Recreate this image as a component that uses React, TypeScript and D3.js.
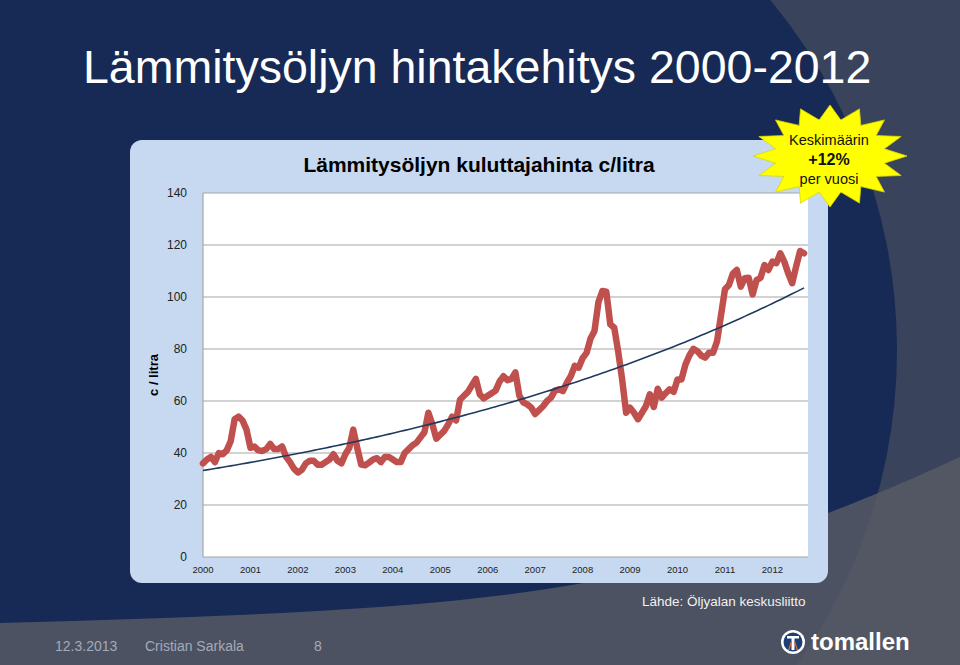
import React from 'react';
import * as d3 from 'd3';

// Lämmitysöljyn kuluttajahinta c/litra, kuukausittain 1/2000 - 9/2012
const startYear = 2000;
const years = d3.range(2000, 2013);
const yTicks = [0, 20, 40, 60, 80, 100, 120, 140];

const prices2000_2003 = [
  36, 37.5, 38.5, 36.5, 40, 39.5, 41, 44.5, 53, 54, 52.5, 49,
  42, 42.5, 41, 40.8, 41.5, 43.5, 41.5, 41.5, 42.5, 38.5, 36.5, 34,
  32.5, 33.5, 36, 37, 37, 35.5, 35.5, 36.5, 37.5, 39.5, 37, 36,
  39.5, 42, 49, 42, 35.6, 35.3, 36.3, 37.5, 38, 36.5, 38.5, 38.5,
];
const prices2004_2007 = [
  37.5, 36.5, 36.5, 40, 41.5, 43, 44, 46, 48, 55.5, 51, 45.5,
  47, 48.5, 51, 54, 52.5, 60.5, 62, 63.5, 66, 68.5, 62.5, 61,
  62, 63, 64, 67.5, 69.5, 68, 68.5, 71, 62, 59.5, 58.7, 57.5,
  55, 56.5, 58, 60, 61.3, 64, 64.5, 63.8, 67, 69.5, 73.5, 72.8,
];
const prices2008_2012 = [
  76.5, 78.5, 84, 86.9, 98, 102.3, 102, 89.5, 88.2, 79, 68.3, 55.5,
  57.4, 55.5, 53, 55.5, 58, 62.6, 57.7, 64.7, 61.3, 63, 64.5, 63.5,
  68.3, 68.3, 74, 77.5, 80, 79.2, 77.5, 76.7, 78.6, 78.6, 83, 93,
  103, 104.6, 109, 110.4, 104, 107.2, 107.4, 101, 106.5, 107.4, 112.3, 110.4,
  113.6, 113, 116.8, 113.6, 109.1, 105.3, 111.7, 117.7, 116.8,
];
const prices = [...prices2000_2003, ...prices2004_2007, ...prices2008_2012];

const W = 960;
const H = 665;
const FONT = '"Liberation Sans", Arial, sans-serif';

const plot = { left: 203, right: 808, top: 193, bottom: 557 };

function starPath(cx: number, cy: number, rx: number, ry: number, n: number, inner: number) {
  const pts: [number, number][] = [];
  for (let i = 0; i < n * 2; i++) {
    const a = (Math.PI * i) / n - Math.PI / 2;
    const k = i % 2 === 0 ? 1 : inner;
    pts.push([cx + Math.cos(a) * rx * k, cy + Math.sin(a) * ry * k]);
  }
  return 'M' + pts.map(p => p.join(',')).join('L') + 'Z';
}

const App = () => {
  const x = d3.scaleLinear().domain([0, 153]).range([plot.left, plot.right]);
  const y = d3.scaleLinear().domain([0, 140]).range([plot.bottom, plot.top]);

  const line = d3.line<number>()
    .x((_, i) => x(i))
    .y(d => y(d));

  // exponential trendline (least squares on log values), like Excel
  const idx = prices.map((_, i) => i);
  const logs = prices.map(v => Math.log(v));
  const mx = d3.mean(idx) as number;
  const my = d3.mean(logs) as number;
  const b = d3.sum(idx, i => (i - mx) * (logs[i] - my)) / d3.sum(idx, i => (i - mx) * (i - mx));
  const a = my - b * mx;
  const trend = idx.map(i => Math.exp(a + b * i));

  const bottomCurve = d3.line().curve(d3.curveNatural)([
    [0, 623], [300, 612], [600, 580], [828, 513], [960, 457],
  ]) as string;
  const lowerBand = bottomCurve + 'L960,665L0,665Z';

  return (
    <svg width={W} height={H} style={{ position: 'absolute', left: 0, top: 0, display: 'block' }}>
      {/* slide background */}
      <rect width={W} height={H} fill="#39435b" />
      <circle cx={351} cy={350} r={546} fill="#172a55" />
      <path d={lowerBand} fill="#5b5e67" opacity={0.78} />

      <text x={83} y={83} fill="#ffffff" fontFamily={FONT} fontSize={46.5}>
        Lämmitysöljyn hintakehitys 2000-2012
      </text>

      {/* chart panel */}
      <rect x={130} y={140} width={698} height={443} rx={12} fill="#c6d9f1" />
      <text x={479} y={172} textAnchor="middle" fontFamily={FONT} fontWeight="bold" fontSize={21} fill="#000">
        Lämmitysöljyn kuluttajahinta c/litra
      </text>
      <rect x={plot.left} y={plot.top} width={plot.right - plot.left} height={plot.bottom - plot.top} fill="#ffffff" />

      {yTicks.map(t => (
        <g key={t}>
          <line x1={plot.left} x2={plot.right} y1={y(t)} y2={y(t)} stroke="#a6a6a6" strokeWidth={1.2} />
          <text x={187} y={y(t) + 4} textAnchor="end" fontFamily={FONT} fontSize={12} fill="#222">{t}</text>
        </g>
      ))}
      <line x1={plot.left} x2={plot.left} y1={plot.top} y2={plot.bottom} stroke="#a6a6a6" strokeWidth={1.2} />
      {years.map(yr => (
        <text key={yr} x={x((yr - startYear) * 12)} y={573} textAnchor="middle" fontFamily={FONT} fontSize={9.5} fill="#222">
          {yr}
        </text>
      ))}
      <text transform={`translate(158,375) rotate(-90)`} textAnchor="middle" fontFamily={FONT} fontWeight="bold" fontSize={13} fill="#000">
        c / litra
      </text>

      <path d={line(prices) as string} fill="none" stroke="#c0504d" strokeWidth={6.5} strokeLinejoin="round" strokeLinecap="round" />
      <path d={line(trend) as string} fill="none" stroke="#1f3a5f" strokeWidth={1.6} />

      {/* star */}
      <path d={starPath(830, 156, 77, 51, 16, 0.72)} fill="#ffff00" stroke="#d8d800" strokeWidth={0.8} />
      <text x={829} y={145} textAnchor="middle" fontFamily={FONT} fontSize={14.5} fill="#111">Keskimäärin</text>
      <text x={829} y={165} textAnchor="middle" fontFamily={FONT} fontWeight="bold" fontSize={16} fill="#111">+12%</text>
      <text x={829} y={184} textAnchor="middle" fontFamily={FONT} fontSize={14.5} fill="#111">per vuosi</text>

      {/* footer */}
      <text x={642} y={606} fontFamily={FONT} fontSize={13.5} fill="#f0f0f0">Lähde: Öljyalan keskusliitto</text>
      <text x={55} y={651} fontFamily={FONT} fontSize={14} fill="#a4aab8">12.3.2013</text>
      <text x={145} y={651} fontFamily={FONT} fontSize={14} fill="#a4aab8">Cristian Sarkala</text>
      <text x={314} y={651} fontFamily={FONT} fontSize={14} fill="#a4aab8">8</text>

      <circle cx={793} cy={642} r={12} fill="#ffffff" />
      <circle cx={793} cy={642} r={9.5} fill="#1d3f78" />
      <path d="M787,636 L799,636 L799,638.5 L794.5,638.5 L794.5,650 L791.5,650 L791.5,638.5 L787,638.5 Z" fill="#ffffff" />
      <path d="M788,650 L791,641 L792,641 L789.5,650 Z" fill="#e07020" />
      <path d="M798,650 L795,641 L794,641 L796.5,650 Z" fill="#e07020" />
      <text x={811} y={650} fontFamily={FONT} fontWeight="bold" fontSize={24} fill="#ffffff">tomallen</text>
    </svg>
  );
};

export default App;
